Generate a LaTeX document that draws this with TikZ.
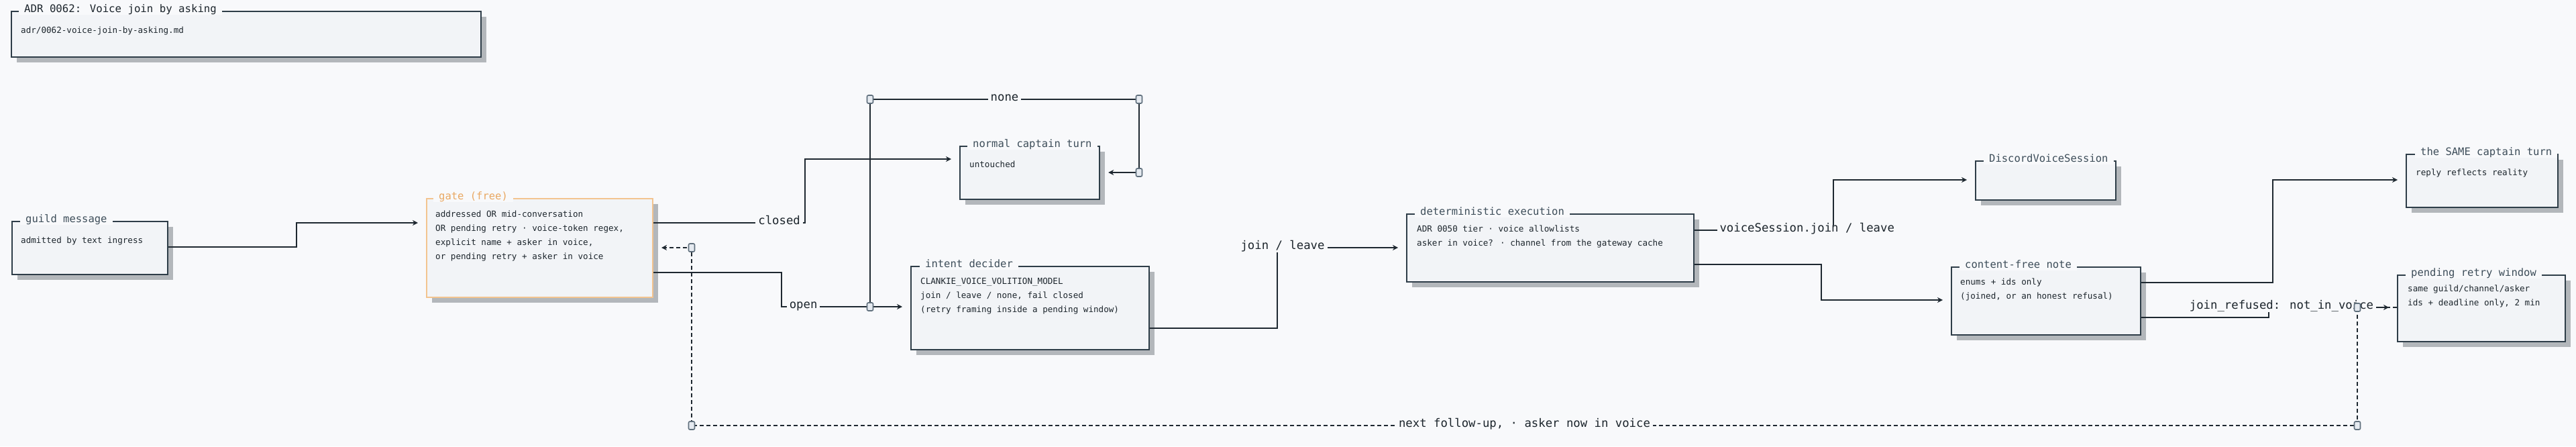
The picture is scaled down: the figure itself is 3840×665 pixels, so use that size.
\documentclass[tikz,border=0pt]{standalone}
\usepackage{fontspec}
\newfontfamily\adrmono{DejaVu Sans Mono}
\usetikzlibrary{arrows.meta,shadows}

\definecolor{canvasbg}{HTML}{F8F9FB}
\definecolor{boxfill}{HTML}{F2F4F7}
\definecolor{boxline}{HTML}{2E3D48}
\definecolor{ttlcol}{HTML}{3E4E5A}
\definecolor{txtcol}{HTML}{1C252C}
\definecolor{gateline}{HTML}{F3C48F}
\definecolor{gatettl}{HTML}{E9A862}
\definecolor{wirecol}{HTML}{1E2830}
\definecolor{shade}{HTML}{B3B7BB}
\definecolor{juncfill}{HTML}{E5EAF0}
\definecolor{juncline}{HTML}{5F6F7C}

\begin{document}
\begin{tikzpicture}[x=1pt, y=-1pt,
  >={Stealth[length=8pt,width=8pt,inset=2.5pt]},
  box/.style={draw=boxline, line width=2.2pt, fill=boxfill, anchor=north west, inner sep=0pt,
    drop shadow={shadow xshift=8pt, shadow yshift=-8pt, fill=shade, opacity=1}},
  ttl/.style={anchor=west, fill=canvasbg, text=ttlcol, inner xsep=8pt, inner ysep=1pt,
    text height=0.75em, text depth=0.25em, font=\adrmono\fontsize{15.5}{18}\selectfont},
  txt/.style={anchor=north west, inner sep=0pt, align=left, text=txtcol,
    execute at begin node=\strut, font=\adrmono\fontsize{12.6}{21}\selectfont},
  lbl/.style={fill=canvasbg, text=txtcol, inner xsep=4pt, inner ysep=2pt,
    text height=0.75em, text depth=0.25em, font=\adrmono\fontsize{17.3}{20}\selectfont},
  wire/.style={draw=wirecol, line width=2.2pt, shorten >=12pt},
  junc/.style={draw=juncline, fill=juncfill, line width=1.6pt, rounded corners=2pt,
    minimum width=9pt, minimum height=12pt, inner sep=0pt}]

% Hintergrund
\fill[canvasbg] (0,0) rectangle (3840,665);
\useasboundingbox (0,0) rectangle (3840,665);

% Titel oben links
\node[box, minimum width=700, minimum height=68] (adr) at (16,16) {};
\node[ttl, text=txtcol, font=\adrmono\fontsize{15.7}{18}\selectfont] (adrttl) at ([xshift=12pt]adr.north west) {ADR 0062: Voice join by asking};
\node[txt] (adrtxt) at ([shift={(15,18.8)}]adr.north west) {adr/0062-voice-join-by-asking.md};

% Eingang und Gate
\node[box, minimum width=232, minimum height=79] (guild) at (17,329) {};
\node[ttl] (guildttl) at ([xshift=13pt]guild.north west) {guild message};
\node[txt] (guildtxt) at ([shift={(14,18.8)}]guild.north west) {admitted by text ingress};

\node[box, draw=gateline, line width=2pt, minimum width=337, minimum height=147] (gate) at (635,295) {};
\node[ttl, text=gatettl] (gatettl) at ([xshift=11pt]gate.north west) {gate (free)};
\node[txt] (gatetxt) at ([shift={(14,18.8)}]gate.north west) {addressed OR mid-conversation\\OR pending retry · voice-token regex,\\explicit name + asker in voice,\\or pending retry + asker in voice};

% Captain-Turn und Decider
\node[box, minimum width=208, minimum height=79] (normal) at (1430,217) {};
\node[ttl] (normalttl) at ([xshift=12pt]normal.north west) {normal captain turn};
\node[txt] (normaltxt) at ([shift={(15,17.8)}]normal.north west) {untouched};

\node[box, minimum width=355, minimum height=124] (intent) at (1357,396) {};
\node[ttl] (intentttl) at ([xshift=14pt]intent.north west) {intent decider};
\node[txt] (intenttxt) at ([shift={(15,17.8)}]intent.north west) {CLANKIE\_VOICE\_VOLITION\_MODEL\\join / leave / none, fail closed\\(retry framing inside a pending window)};

% Ausfuehrung
\node[box, minimum width=428, minimum height=101] (exec) at (2096,318) {};
\node[ttl] (execttl) at ([xshift=13pt]exec.north west) {deterministic execution};
\node[txt] (exectxt) at ([shift={(16,17.8)}]exec.north west) {ADR 0050 tier · voice allowlists\\asker in voice? · channel from the gateway cache};

\node[box, minimum width=209, minimum height=58] (dvs) at (2944,239) {};
\node[ttl] (dvsttl) at ([xshift=13pt]dvs.north west) {DiscordVoiceSession};

\node[box, minimum width=282, minimum height=101] (note) at (2908,397) {};
\node[ttl] (notettl) at ([xshift=13pt]note.north west) {content-free note};
\node[txt] (notetxt) at ([shift={(14,17.8)}]note.north west) {enums + ids only\\(joined, or an honest refusal)};

% Ziele rechts
\node[box, minimum width=226, minimum height=79] (same) at (3586,229) {};
\node[ttl] (samettl) at ([xshift=14pt]same.north west) {the SAME captain turn};
\node[txt] (sametxt) at ([shift={(15,17.8)}]same.north west) {reply reflects reality};

\node[box, minimum width=250, minimum height=99] (pending) at (3573,409) {};
\node[ttl] (pendingttl) at ([xshift=13pt]pending.north west) {pending retry window};
\node[txt] (pendingtxt) at ([shift={(16,15.8)}]pending.north west) {same guild/channel/asker\\ids + deadline only, 2 min};

% Knickpunkte
\coordinate (split) at (1297,457);
\coordinate (n1) at (1297,148);
\coordinate (n2) at (1698,148);
\coordinate (n3) at (1698,257);
\coordinate (r1) at (3514,458);
\coordinate (r2) at (3514,634);
\coordinate (r3) at (1031,634);
\coordinate (r4) at (1031,369);

% Rueckweg (gestrichelt)
\draw[wire, dash pattern=on 6pt off 4pt, ->] (pending.west |- r1) -- (r1) -- (r2)
  -- node[lbl] {next follow-up, · asker now in voice} (r3) -- (r4) -- (gate.east |- r4);

% Hauptfluss
\draw[wire, ->] (guild.east |- 0,368) -- (442,368) -- (442,332) -- (gate.west |- 0,332);
\draw[wire, ->] (gate.east |- 0,332) -- node[lbl, pos=0.83] {closed} (1200,332) -- (1200,237) -- (normal.west |- 0,237);
\draw[wire, ->] (gate.east |- 0,406) -- (1165,406) -- (1165,457) -- node[lbl, pos=0.17] {open} (intent.west |- split);
\draw[wire, ->] (split) -- (n1) -- node[lbl] {none} (n2) -- (n3) -- (normal.east |- n3);
\draw[wire, ->] (intent.east |- 0,489) -- (1904,489) -- (1904,369) node[lbl, xshift=8pt] {join / leave} -- (exec.west |- 0,369);
\draw[wire, ->] (exec.east |- 0,343) -- node[lbl, pos=0.81] {voiceSession.join / leave} (2733,343) -- (2733,268) -- (dvs.west |- 0,268);
\draw[wire, ->] (exec.east |- 0,394) -- (2715,394) -- (2715,447) -- (note.west |- 0,447);
\draw[wire, ->] (note.east |- 0,421) -- (3388,421) -- (3388,268) -- (same.west |- 0,268);
\draw[wire, ->] (note.east |- 0,473) -- (3382,473) -- (3382,458) node[lbl, xshift=19pt] {join\_refused: not\_in\_voice} -- (pending.west |- r1);

% Verbindungspunkte
\node[junc] (j0) at (split) {};
\node[junc] (j1) at (n1) {};
\node[junc] (j2) at (n2) {};
\node[junc] (j3) at (n3) {};
\node[junc] (j4) at (r1) {};
\node[junc] (j5) at (r2) {};
\node[junc] (j6) at (r3) {};
\node[junc] (j7) at (r4) {};

\end{tikzpicture}
\end{document}
